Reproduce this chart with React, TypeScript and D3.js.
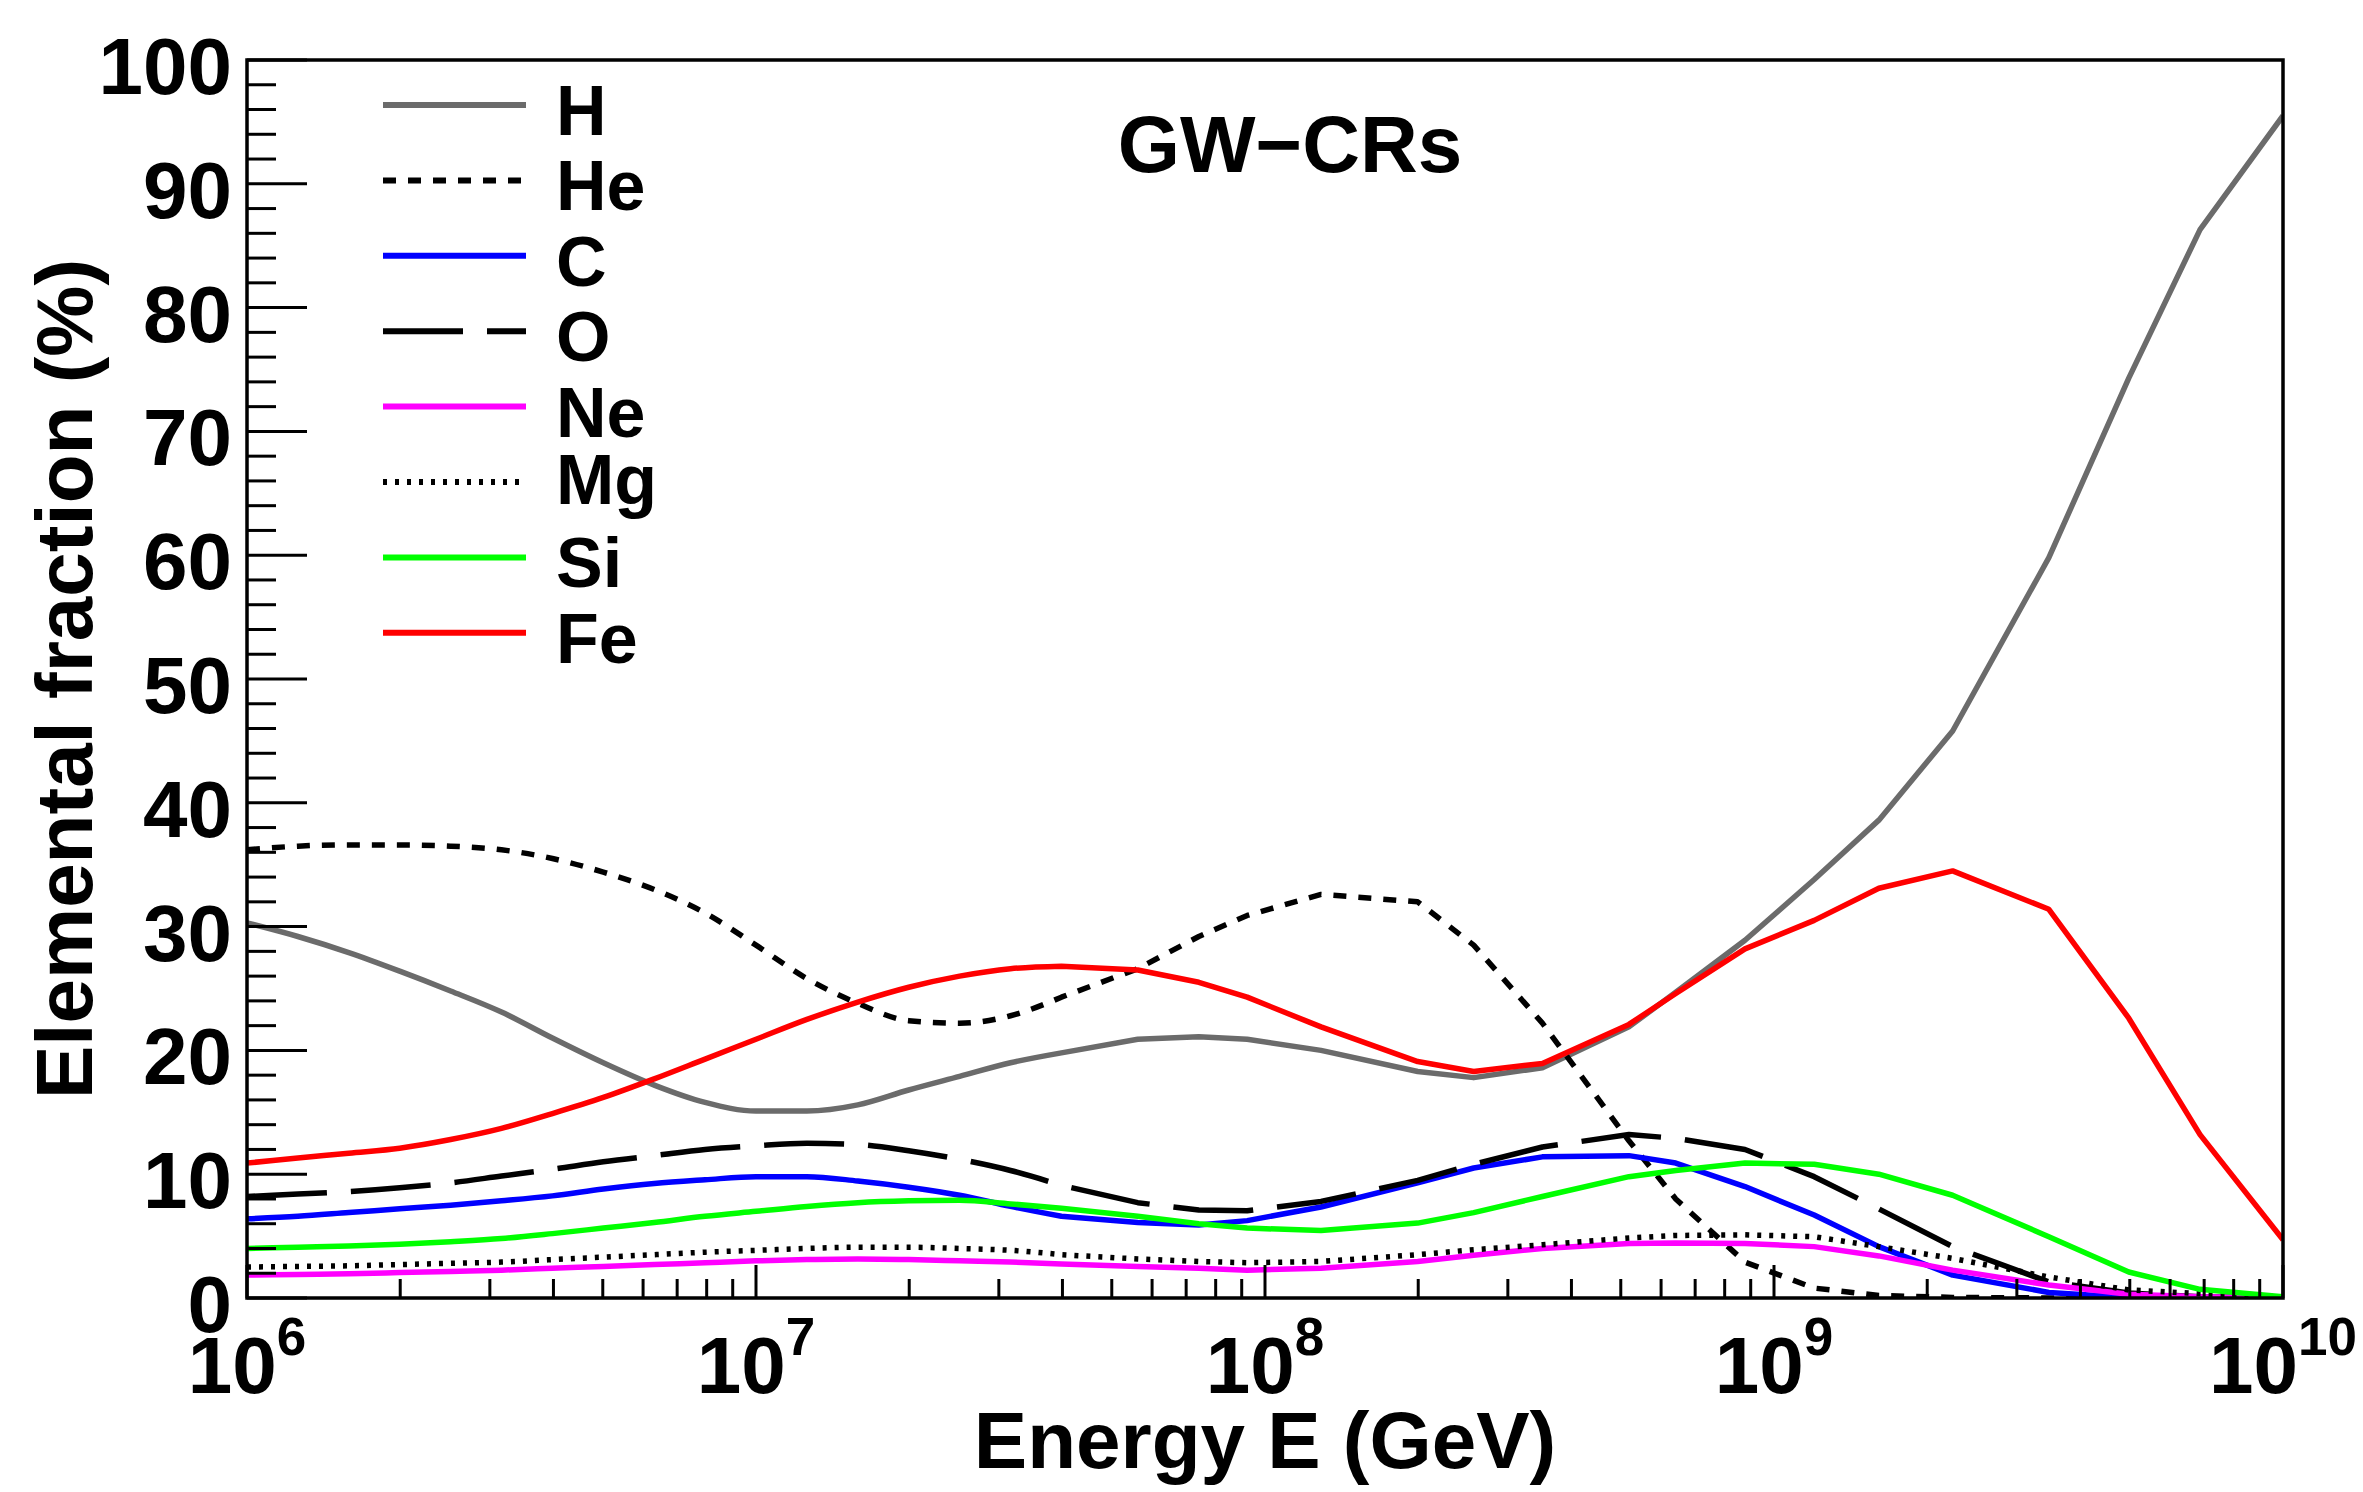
import * as d3 from 'd3';
import React from 'react';

// log10(E/GeV) at which the fractions are sampled
const logE = [
  6.0, 6.1, 6.2, 6.3, 6.4, 6.5, 6.6, 6.7, 6.8, 6.9, 7.0, 7.1, 7.2, 7.3, 7.4, 7.5,
  7.6, 7.75, 7.87, 7.965, 8.11, 8.3, 8.41, 8.545, 8.715, 8.807, 8.943, 9.079,
  9.206, 9.351, 9.54, 9.697, 9.837, 10.0,
];
// the first points are finely spaced, the rest are joined by straight segments
const nSmooth = 17;

// elemental fractions in %
const fracH = [
  30.3, 29.2, 27.9, 26.4, 24.8, 23.1, 21.0, 19.0, 17.2, 15.8, 15.1, 15.1, 15.6, 16.8, 17.9, 19.0,
  19.8, 20.9, 21.1, 20.9, 20.0, 18.3, 17.8, 18.6, 21.9, 24.7, 28.9, 33.8,
  38.6, 45.8, 59.8, 74.3, 86.3, 95.5,
];
const fracHe = [
  36.2, 36.5, 36.6, 36.6, 36.5, 36.2, 35.5, 34.4, 33.0, 31.1, 28.5, 25.8, 23.8, 22.4, 22.2, 22.8,
  24.3, 26.6, 29.2, 30.9, 32.6, 32.0, 28.5, 22.2, 12.7, 8.0, 2.9, 0.8,
  0.2, 0.05, 0, 0, 0, 0,
];
const fracC = [
  6.4, 6.6, 6.9, 7.2, 7.5, 7.85, 8.25, 8.8, 9.25, 9.55, 9.8, 9.8, 9.45, 8.95, 8.3, 7.4,
  6.6, 6.1, 5.9, 6.25, 7.35, 9.3, 10.5, 11.4, 11.5, 10.9, 9.0, 6.7,
  4.15, 1.85, 0.45, 0.05, 0, 0,
];
const fracO = [
  8.2, 8.4, 8.6, 8.9, 9.3, 9.85, 10.4, 11.0, 11.5, 12.0, 12.3, 12.5, 12.4, 11.9, 11.2, 10.3,
  9.1, 7.7, 7.1, 7.05, 7.8, 9.5, 10.8, 12.2, 13.2, 12.9, 12.0, 9.8,
  7.2, 4.15, 1.3, 0.4, 0.1, 0,
];
const fracNe = [
  1.85, 1.9, 1.95, 2.05, 2.15, 2.25, 2.4, 2.55, 2.7, 2.85, 3.0, 3.1, 3.15, 3.1, 3.0, 2.9,
  2.75, 2.55, 2.4, 2.25, 2.4, 2.95, 3.45, 4.0, 4.4, 4.45, 4.4, 4.15,
  3.4, 2.25, 1.05, 0.3, 0.1, 0,
];
const fracMg = [
  2.5, 2.55, 2.6, 2.7, 2.8, 2.9, 3.1, 3.3, 3.5, 3.7, 3.85, 4.0, 4.1, 4.1, 4.0, 3.85,
  3.5, 3.15, 2.95, 2.85, 2.95, 3.5, 3.9, 4.3, 4.85, 5.05, 5.1, 4.95,
  4.15, 3.2, 1.7, 0.65, 0.35, 0.1,
];
const fracSi = [
  4.0, 4.1, 4.2, 4.35, 4.55, 4.8, 5.2, 5.65, 6.1, 6.6, 7.0, 7.4, 7.7, 7.85, 7.9, 7.6,
  7.25, 6.6, 6.0, 5.65, 5.45, 6.05, 6.9, 8.2, 9.8, 10.3, 10.9, 10.8,
  10.0, 8.3, 4.95, 2.1, 0.7, 0.1,
];
const fracFe = [
  10.9, 11.3, 11.7, 12.1, 12.8, 13.7, 14.9, 16.2, 17.7, 19.3, 20.9, 22.5, 23.9, 25.1, 26.0, 26.6,
  26.8, 26.5, 25.5, 24.3, 21.9, 19.1, 18.3, 18.95, 22.1, 24.6, 28.2, 30.5,
  33.1, 34.5, 31.4, 22.6, 13.2, 4.7,
];

const elements = ['H', 'He', 'C', 'O', 'Ne', 'Mg', 'Si', 'Fe'];
const fractions = [fracH, fracHe, fracC, fracO, fracNe, fracMg, fracSi, fracFe];
const colors = ['#6b6b6b', '#000', '#0000ff', '#000', '#ff00ff', '#000', '#00ff00', '#ff0000'];
const dashes = ['', '13,12', '', '80,24', '', '4,8', '', ''];

const yTicks = d3.range(0, 101, 10);
const yMinor = d3.range(0, 101, 2).filter(v => v % 10 !== 0);
const xDecades = [6, 7, 8, 9, 10];

const W = 2363, H = 1492;
const left = 247, right = 2283, top = 60, bottom = 1298;
const font = '"Liberation Sans", Arial, Helvetica, sans-serif';

const App = () => {
  const x = d3.scaleLog().domain([1e6, 1e10]).range([left, right]);
  const y = d3.scaleLinear().domain([0, 100]).range([bottom, top]);

  const xMinor: number[] = [];
  for (let d = 6; d < 10; d++) for (let k = 2; k <= 9; k++) xMinor.push(k * Math.pow(10, d));

  const pts = (f: number[]) => f.map((v, i) => [x(Math.pow(10, logE[i])), y(v)] as [number, number]);
  const smooth = d3.line().curve(d3.curveMonotoneX);
  const straight = d3.line();
  const curvePath = (f: number[]) => {
    const p = pts(f);
    const a = smooth(p.slice(0, nSmooth)) || '';
    const b = straight(p.slice(nSmooth - 1)) || '';
    return a + 'L' + b.slice(1);
  };

  return (
    <svg width={W} height={H} style={{ position: 'absolute', left: 0, top: 0, background: '#fff' }}
      fontFamily={font} fontWeight="bold">
      <defs>
        <clipPath id="plot-area">
          <rect x={left} y={top} width={right - left} height={bottom - top} />
        </clipPath>
      </defs>

      {/* curves */}
      <g clipPath="url(#plot-area)" fill="none">
        {fractions.map((f, i) => (
          <path key={elements[i]} d={curvePath(f)} stroke={colors[i]} strokeWidth={5.5}
            strokeDasharray={dashes[i] || undefined} strokeLinejoin="round" />
        ))}
      </g>

      {/* frame */}
      <rect x={left} y={top} width={right - left} height={bottom - top} fill="none" stroke="#000" strokeWidth={3.5} />

      {/* y axis */}
      {yTicks.map(v => (
        <g key={'y' + v}>
          <line x1={left} x2={left + 60} y1={y(v)} y2={y(v)} stroke="#000" strokeWidth={3} />
          <text x={232} y={y(v) + 34} fontSize={80} textAnchor="end">{v}</text>
        </g>
      ))}
      {yMinor.map(v => (
        <line key={'ym' + v} x1={left} x2={left + 29} y1={y(v)} y2={y(v)} stroke="#000" strokeWidth={3} />
      ))}

      {/* x axis */}
      {xMinor.map(v => (
        <line key={'xm' + v} x1={x(v)} x2={x(v)} y1={bottom} y2={bottom - 19} stroke="#000" strokeWidth={3} />
      ))}
      {xDecades.map(d => {
        const px = x(Math.pow(10, d));
        const exp = String(d);
        const wBase = 0.556 * 80 * 2;
        const wExp = 0.556 * 53 * exp.length;
        const x0 = px - (wBase + wExp) / 2;
        return (
          <g key={'x' + d}>
            <line x1={px} x2={px} y1={bottom} y2={bottom - 33} stroke="#000" strokeWidth={3} />
            <text x={x0} y={1393} fontSize={80}>10</text>
            <text x={x0 + wBase} y={1355} fontSize={53}>{exp}</text>
          </g>
        );
      })}

      {/* axis titles */}
      <text x={(left + right) / 2} y={1468} fontSize={80} textAnchor="middle">Energy E (GeV)</text>
      <text transform={`translate(92,${(top + bottom) / 2}) rotate(-90)`} fontSize={80} textAnchor="middle">
        Elemental fraction (%)
      </text>

      {/* title */}
      <text x={1290} y={172} fontSize={80} textAnchor="middle">GW−CRs</text>

      {/* legend */}
      {elements.map((el, i) => {
        const ly = 105 + i * 75.4;
        // labels with a descender sit a little higher
        const shift = el === 'Mg' ? -8 : 0;
        return (
          <g key={'leg' + el}>
            <line x1={383} x2={526} y1={ly} y2={ly} stroke={colors[i]} strokeWidth={6}
              strokeDasharray={dashes[i] || undefined} />
            <text x={556} y={ly + 30 + shift} fontSize={70}>{el}</text>
          </g>
        );
      })}
    </svg>
  );
};

export default App;
